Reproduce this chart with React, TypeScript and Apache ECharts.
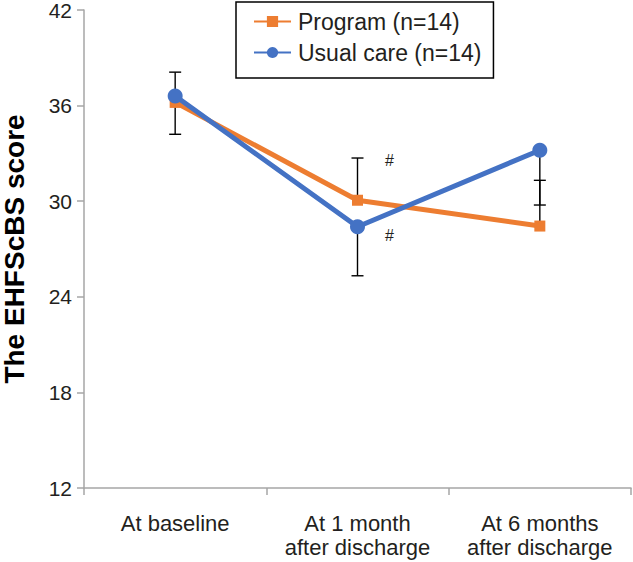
import React, { useEffect, useRef } from "react";
import * as echarts from "echarts";

const categories = ["At baseline", "At 1 month\nafter discharge", "At 6 months\nafter discharge"];
const programValues = [36.2, 30.06, 28.44];
const usualCareValues = [36.6, 28.4, 33.2];
const programSDPlus = [1.9, 2.65, 2.87];
const usualCareSDMinus = [2.4, 3.08, 3.44];
const programMarks = ["", "#", ""];
const usualCareMarks = ["", "#", ""];
const yMin = 12;
const yMax = 42;
const yInterval = 6;
const seriesNames = ["Program (n=14)", "Usual care (n=14)"];
const yAxisTitle = "The EHFScBS score";

const FONT = "'Liberation Sans', Arial, Helvetica, sans-serif";
const TEXT = "#231f20";
const ORANGE = "#ed7d31";
const BLUE = "#4472c4";
const AXIS = "#a6a6a6";

export default function App() {
  const ref = useRef<HTMLDivElement>(null);
  useEffect(() => {
    document.body.style.margin = "0";
    if (!ref.current) return;
    const chart = echarts.init(ref.current, undefined, { renderer: "svg" });

    const errData: number[][] = [];
    programValues.forEach((v, i) => errData.push([i, v, v + programSDPlus[i], 1]));
    usualCareValues.forEach((v, i) => errData.push([i, v - usualCareSDMinus[i], v, 0]));

    const markLabel = (marks: string[], offset: number[]) => (v: number, i: number) =>
      marks[i]
        ? {
            value: v,
            label: {
              show: true,
              formatter: marks[i],
              position: "inside",
              offset,
              fontSize: 16,
              color: TEXT,
              fontFamily: FONT,
            },
          }
        : v;

    chart.setOption({
      animation: false,
      backgroundColor: "#fff",
      textStyle: { fontFamily: FONT },
      grid: { left: 84, right: 2, top: 10, bottom: 74, outerBoundsMode: "none", containLabel: false },
      legend: {
        orient: "vertical",
        left: 236,
        top: 2,
        padding: [8, 12, 14, 17],
        itemGap: 8,
        itemWidth: 37,
        itemHeight: 14,
        borderColor: "#000",
        borderWidth: 1.5,
        backgroundColor: "#fff",
        textStyle: { fontSize: 23, color: TEXT, fontFamily: FONT, padding: [0, 0, 0, 2] },
        data: seriesNames,
      },
      xAxis: {
        type: "category",
        data: categories,
        boundaryGap: true,
        axisLine: { lineStyle: { color: AXIS, width: 1.5 } },
        axisTick: { show: true, length: 7, lineStyle: { color: AXIS, width: 1.5 } },
        axisLabel: { interval: 0, fontSize: 22, color: TEXT, lineHeight: 24, margin: 23, fontFamily: FONT },
        splitLine: { show: false },
      },
      yAxis: {
        type: "value",
        min: yMin,
        max: yMax,
        interval: yInterval,
        name: yAxisTitle,
        nameLocation: "middle",
        nameGap: 56,
        nameTextStyle: { fontSize: 28, lineHeight: 28, fontWeight: "bold", color: "#000", fontFamily: FONT },
        axisLine: { show: true, lineStyle: { color: AXIS, width: 1.5 } },
        axisTick: { show: true, length: 7, lineStyle: { color: AXIS, width: 1.5 } },
        axisLabel: { fontSize: 21, lineHeight: 16, color: TEXT, margin: 12, fontFamily: FONT },
        splitLine: { show: false },
      },
      series: [
        {
          type: "custom",
          z: 1,
          silent: true,
          data: errData,
          encode: { x: 0, y: [1, 2] },
          renderItem: (params: any, api: any) => {
            const idx = api.value(0);
            const lo = api.coord([idx, api.value(1)]);
            const hi = api.coord([idx, api.value(2)]);
            const capY = api.value(3) === 1 ? hi[1] : lo[1];
            const style = { stroke: "#000", lineWidth: 1.4 };
            return {
              type: "group",
              children: [
                { type: "line", shape: { x1: lo[0], y1: lo[1], x2: hi[0], y2: hi[1] }, style },
                { type: "line", shape: { x1: lo[0] - 6, y1: capY, x2: lo[0] + 6, y2: capY }, style },
              ],
            };
          },
        },
        {
          name: seriesNames[0],
          type: "line",
          z: 3,
          data: programValues.map(markLabel(programMarks, [32, -40])),
          symbol: "rect",
          symbolSize: 11,
          itemStyle: { color: ORANGE },
          lineStyle: { color: ORANGE, width: 5 },
        },
        {
          name: seriesNames[1],
          type: "line",
          z: 4,
          data: usualCareValues.map(markLabel(usualCareMarks, [32, 9])),
          symbol: "circle",
          symbolSize: 15,
          itemStyle: { color: BLUE },
          lineStyle: { color: BLUE, width: 5 },
        },
      ],
    });
    return () => chart.dispose();
  }, []);
  return <div ref={ref} style={{ width: 633, height: 562 }} />;
}
